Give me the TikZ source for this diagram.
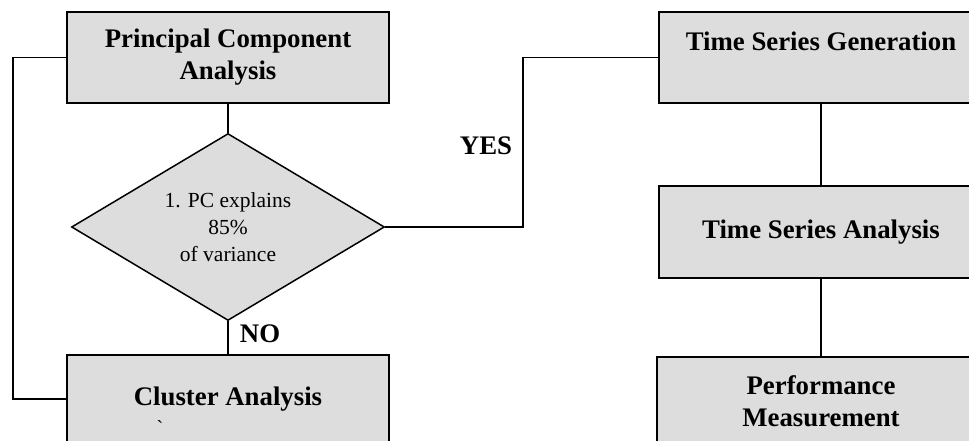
\documentclass[tikz,border=0pt]{standalone}
\usepackage{fontspec}
\setmainfont{Liberation Serif}
\usetikzlibrary{shapes.geometric}
\definecolor{boxgray}{HTML}{DDDDDD}
\begin{document}
\begin{tikzpicture}[x=1pt, y=-1pt,
  procbox/.style={draw, fill=boxgray, line width=1.5pt, inner sep=0pt,
    align=center, font=\bfseries\fontsize{26.8}{32}\selectfont},
  decision/.style={diamond, draw, fill=boxgray, line width=1.5pt, inner sep=0pt,
    aspect=1.67, align=center, minimum width=313pt, minimum height=187pt,
    font=\fontsize{21.5}{27}\selectfont},
  flowlabel/.style={font=\bfseries\fontsize{26.8}{32}\selectfont, inner sep=0pt},
  link/.style={line width=1.5pt}]
  \useasboundingbox (0,0) rectangle (969,441);

  % left column
  \node[procbox, minimum width=322pt, minimum height=91pt] (pca) at (228,57.5)
    {Principal Component\\Analysis};
  \node[decision] (dec) at (228,227) {1. PC explains\\85\%\\of variance};
  \node[procbox, minimum width=322pt, minimum height=88pt] (clu) at (228,399)
    {Cluster Analysis};
  \node[font=\fontsize{20}{24}\selectfont, inner sep=0pt] (tick) at (160,428) {\textasciigrave};

  % right column
  \node[procbox, minimum width=324pt, minimum height=91pt] (tsg) at (821,57.5)
    {Time Series Generation\\\mbox{}};
  \node[procbox, minimum width=324pt, minimum height=92pt] (tsa) at (821,232)
    {Time Series Analysis};
  \node[procbox, minimum width=328pt, minimum height=88pt] (pm) at (821,401)
    {Performance\\Measurement};

  % branch labels
  \node[flowlabel] (yes) at (486,146) {YES};
  \node[flowlabel] (no) at (260,334) {NO};

  % connectors
  \coordinate (loopTop) at (13,57.5);
  \coordinate (loopBot) at (13,399);
  \coordinate (yesLow) at (523,227);
  \coordinate (yesHigh) at (523,57.5);
  \draw[link] (pca.south) -- (dec.north);
  \draw[link] (dec.south) -- (clu.north);
  \draw[link] (pca.west) -- (loopTop) -- (loopBot) -- (clu.west);
  \draw[link] (dec.east) -- (yesLow) -- (yesHigh) -- (tsg.west);
  \draw[link] (tsg.south) -- (tsa.north);
  \draw[link] (tsa.south) -- (pm.north);
\end{tikzpicture}
\end{document}
